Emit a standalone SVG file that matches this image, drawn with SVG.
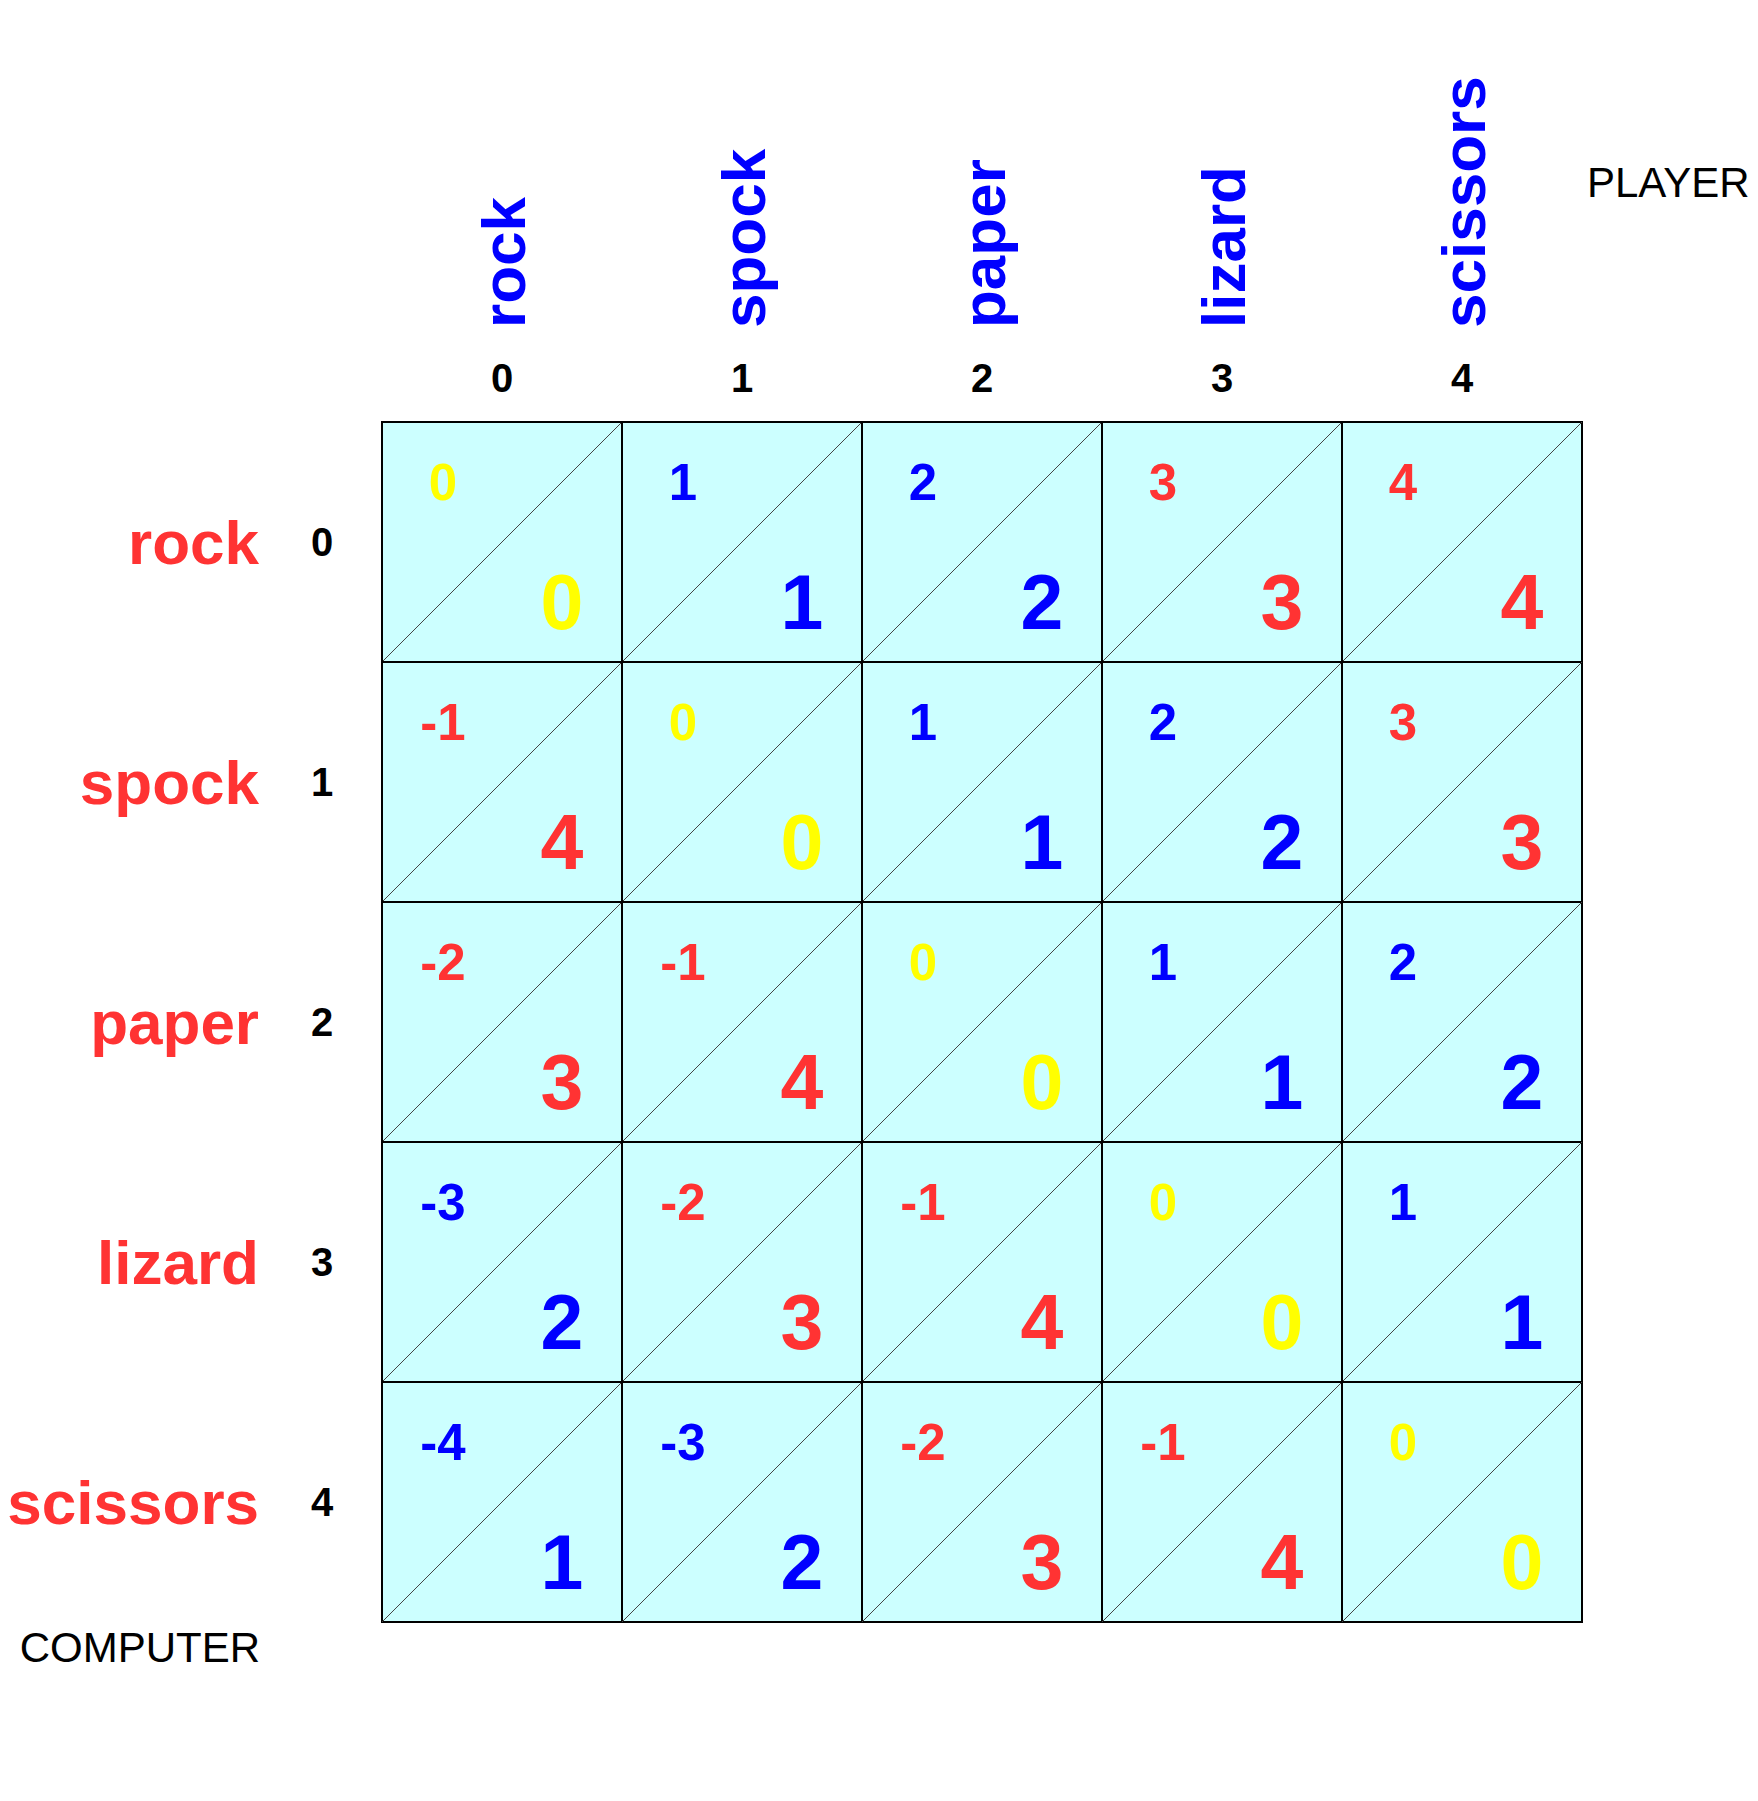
<svg xmlns="http://www.w3.org/2000/svg" width="1758" height="1801" viewBox="0 0 1758 1801">
<style>
text{font-family:"Liberation Sans",Arial,sans-serif;}
.cell{fill:#CCFFFF;stroke:#000;stroke-width:2;}
.diag{stroke:#444;stroke-width:1;fill:none;}
.sm{font-size:51px;font-weight:bold;text-anchor:middle;}
.lg{font-size:77px;font-weight:bold;text-anchor:middle;}
.rl{font-size:62px;font-weight:bold;fill:#FF3333;text-anchor:end;}
.cl{font-size:62px;font-weight:bold;fill:#0000FF;}
.ix{font-size:40px;font-weight:bold;fill:#000;text-anchor:middle;}
.ttl{font-size:42px;fill:#000;}
.y{fill:#FFFF00;}
.u{fill:#0000FF;}
.r{fill:#FF3333;}
</style>
<rect width="1758" height="1801" fill="#fff"/>
<g id="col-headers">
<text class="cl" transform="translate(525,328) rotate(-90)">rock</text>
<text class="cl" transform="translate(765,328) rotate(-90)">spock</text>
<text class="cl" transform="translate(1005,328) rotate(-90)">paper</text>
<text class="cl" transform="translate(1245,328) rotate(-90)">lizard</text>
<text class="cl" transform="translate(1485,328) rotate(-90)">scissors</text>
<text class="ix" x="502" y="392">0</text>
<text class="ix" x="742" y="392">1</text>
<text class="ix" x="982" y="392">2</text>
<text class="ix" x="1222" y="392">3</text>
<text class="ix" x="1462" y="392">4</text>
<text class="ttl" x="1587" y="197">PLAYER</text>
</g>
<g id="row-headers">
<text class="rl" x="259" y="564">rock</text>
<text class="rl" x="259" y="804">spock</text>
<text class="rl" x="259" y="1044">paper</text>
<text class="rl" x="259" y="1284">lizard</text>
<text class="rl" x="259" y="1524">scissors</text>
<text class="ix" x="322" y="556">0</text>
<text class="ix" x="322" y="796">1</text>
<text class="ix" x="322" y="1036">2</text>
<text class="ix" x="322" y="1276">3</text>
<text class="ix" x="322" y="1516">4</text>
<text class="ttl" x="260" y="1662" text-anchor="end">COMPUTER</text>
</g>
<g id="r0c0"><rect class="cell" x="382" y="422" width="240" height="240"/><line class="diag" x1="382" y1="662" x2="622" y2="422"/><text class="sm y" x="443" y="500">0</text><text class="lg y" x="562" y="629">0</text></g>
<g id="r0c1"><rect class="cell" x="622" y="422" width="240" height="240"/><line class="diag" x1="622" y1="662" x2="862" y2="422"/><text class="sm u" x="683" y="500">1</text><text class="lg u" x="802" y="629">1</text></g>
<g id="r0c2"><rect class="cell" x="862" y="422" width="240" height="240"/><line class="diag" x1="862" y1="662" x2="1102" y2="422"/><text class="sm u" x="923" y="500">2</text><text class="lg u" x="1042" y="629">2</text></g>
<g id="r0c3"><rect class="cell" x="1102" y="422" width="240" height="240"/><line class="diag" x1="1102" y1="662" x2="1342" y2="422"/><text class="sm r" x="1163" y="500">3</text><text class="lg r" x="1282" y="629">3</text></g>
<g id="r0c4"><rect class="cell" x="1342" y="422" width="240" height="240"/><line class="diag" x1="1342" y1="662" x2="1582" y2="422"/><text class="sm r" x="1403" y="500">4</text><text class="lg r" x="1522" y="629">4</text></g>
<g id="r1c0"><rect class="cell" x="382" y="662" width="240" height="240"/><line class="diag" x1="382" y1="902" x2="622" y2="662"/><text class="sm r" x="443" y="740">-1</text><text class="lg r" x="562" y="869">4</text></g>
<g id="r1c1"><rect class="cell" x="622" y="662" width="240" height="240"/><line class="diag" x1="622" y1="902" x2="862" y2="662"/><text class="sm y" x="683" y="740">0</text><text class="lg y" x="802" y="869">0</text></g>
<g id="r1c2"><rect class="cell" x="862" y="662" width="240" height="240"/><line class="diag" x1="862" y1="902" x2="1102" y2="662"/><text class="sm u" x="923" y="740">1</text><text class="lg u" x="1042" y="869">1</text></g>
<g id="r1c3"><rect class="cell" x="1102" y="662" width="240" height="240"/><line class="diag" x1="1102" y1="902" x2="1342" y2="662"/><text class="sm u" x="1163" y="740">2</text><text class="lg u" x="1282" y="869">2</text></g>
<g id="r1c4"><rect class="cell" x="1342" y="662" width="240" height="240"/><line class="diag" x1="1342" y1="902" x2="1582" y2="662"/><text class="sm r" x="1403" y="740">3</text><text class="lg r" x="1522" y="869">3</text></g>
<g id="r2c0"><rect class="cell" x="382" y="902" width="240" height="240"/><line class="diag" x1="382" y1="1142" x2="622" y2="902"/><text class="sm r" x="443" y="980">-2</text><text class="lg r" x="562" y="1109">3</text></g>
<g id="r2c1"><rect class="cell" x="622" y="902" width="240" height="240"/><line class="diag" x1="622" y1="1142" x2="862" y2="902"/><text class="sm r" x="683" y="980">-1</text><text class="lg r" x="802" y="1109">4</text></g>
<g id="r2c2"><rect class="cell" x="862" y="902" width="240" height="240"/><line class="diag" x1="862" y1="1142" x2="1102" y2="902"/><text class="sm y" x="923" y="980">0</text><text class="lg y" x="1042" y="1109">0</text></g>
<g id="r2c3"><rect class="cell" x="1102" y="902" width="240" height="240"/><line class="diag" x1="1102" y1="1142" x2="1342" y2="902"/><text class="sm u" x="1163" y="980">1</text><text class="lg u" x="1282" y="1109">1</text></g>
<g id="r2c4"><rect class="cell" x="1342" y="902" width="240" height="240"/><line class="diag" x1="1342" y1="1142" x2="1582" y2="902"/><text class="sm u" x="1403" y="980">2</text><text class="lg u" x="1522" y="1109">2</text></g>
<g id="r3c0"><rect class="cell" x="382" y="1142" width="240" height="240"/><line class="diag" x1="382" y1="1382" x2="622" y2="1142"/><text class="sm u" x="443" y="1220">-3</text><text class="lg u" x="562" y="1349">2</text></g>
<g id="r3c1"><rect class="cell" x="622" y="1142" width="240" height="240"/><line class="diag" x1="622" y1="1382" x2="862" y2="1142"/><text class="sm r" x="683" y="1220">-2</text><text class="lg r" x="802" y="1349">3</text></g>
<g id="r3c2"><rect class="cell" x="862" y="1142" width="240" height="240"/><line class="diag" x1="862" y1="1382" x2="1102" y2="1142"/><text class="sm r" x="923" y="1220">-1</text><text class="lg r" x="1042" y="1349">4</text></g>
<g id="r3c3"><rect class="cell" x="1102" y="1142" width="240" height="240"/><line class="diag" x1="1102" y1="1382" x2="1342" y2="1142"/><text class="sm y" x="1163" y="1220">0</text><text class="lg y" x="1282" y="1349">0</text></g>
<g id="r3c4"><rect class="cell" x="1342" y="1142" width="240" height="240"/><line class="diag" x1="1342" y1="1382" x2="1582" y2="1142"/><text class="sm u" x="1403" y="1220">1</text><text class="lg u" x="1522" y="1349">1</text></g>
<g id="r4c0"><rect class="cell" x="382" y="1382" width="240" height="240"/><line class="diag" x1="382" y1="1622" x2="622" y2="1382"/><text class="sm u" x="443" y="1460">-4</text><text class="lg u" x="562" y="1589">1</text></g>
<g id="r4c1"><rect class="cell" x="622" y="1382" width="240" height="240"/><line class="diag" x1="622" y1="1622" x2="862" y2="1382"/><text class="sm u" x="683" y="1460">-3</text><text class="lg u" x="802" y="1589">2</text></g>
<g id="r4c2"><rect class="cell" x="862" y="1382" width="240" height="240"/><line class="diag" x1="862" y1="1622" x2="1102" y2="1382"/><text class="sm r" x="923" y="1460">-2</text><text class="lg r" x="1042" y="1589">3</text></g>
<g id="r4c3"><rect class="cell" x="1102" y="1382" width="240" height="240"/><line class="diag" x1="1102" y1="1622" x2="1342" y2="1382"/><text class="sm r" x="1163" y="1460">-1</text><text class="lg r" x="1282" y="1589">4</text></g>
<g id="r4c4"><rect class="cell" x="1342" y="1382" width="240" height="240"/><line class="diag" x1="1342" y1="1622" x2="1582" y2="1382"/><text class="sm y" x="1403" y="1460">0</text><text class="lg y" x="1522" y="1589">0</text></g>
<g id="connectors"></g>
</svg>
